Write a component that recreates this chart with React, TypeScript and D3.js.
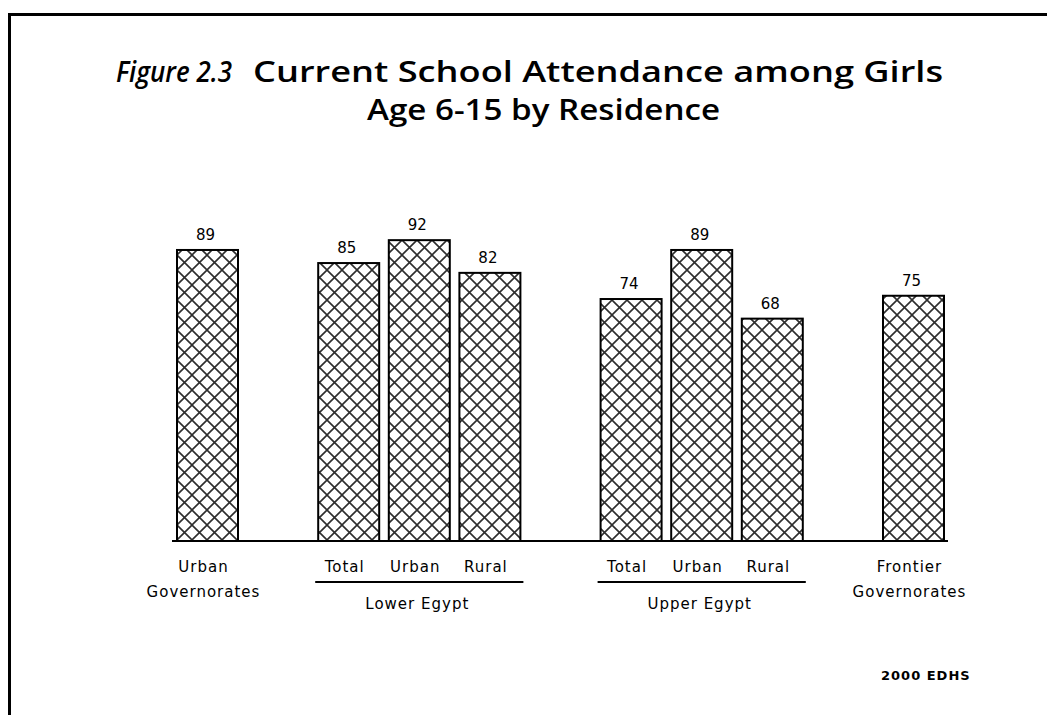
import React from "react";
import * as d3 from "d3";

const barIds = ["urbanGov", "lowerTotal", "lowerUrban", "lowerRural", "upperTotal", "upperUrban", "upperRural", "frontier"];
const barLabels = [["Urban", "Governorates"], ["Total"], ["Urban"], ["Rural"], ["Total"], ["Urban"], ["Rural"], ["Frontier", "Governorates"]];
const barGroups = ["Urban Governorates", "Lower Egypt", "Lower Egypt", "Lower Egypt", "Upper Egypt", "Upper Egypt", "Upper Egypt", "Frontier Governorates"];
const underlinedGroups = ["Lower Egypt", "Upper Egypt"];
const values = [89, 85, 92, 82, 74, 89, 68, 75];
const titleFigure = "Figure 2.3";
const titleLine1 = "Current School Attendance among Girls";
const titleLine2 = "Age 6-15 by Residence";
const sourceNote = "2000 EDHS";

const W = 1047;
const H = 715;
const baseY = 541;

// build slot domain with a gap between groups
const slotDomain: string[] = [];
barIds.forEach((id, i) => {
  if (i > 0 && barGroups[i] !== barGroups[i - 1]) slotDomain.push("gap" + i);
  slotDomain.push(id);
});

const x = d3.scaleBand<string>().domain(slotDomain).range([177, 944]).paddingInner(0.136).paddingOuter(0);
const y = d3.scaleLinear().domain([0, 100]).range([baseY, 214]);

const labelFont = "'DejaVu Sans', Verdana, sans-serif";
const titleFont = "'Open Sans', 'Noto Sans', sans-serif";

export default function App() {
  const bw = x.bandwidth();
  const groupSpans = underlinedGroups.map((g) => {
    const ids = barIds.filter((_, i) => barGroups[i] === g);
    const x0 = x(ids[0])! - 3;
    const x1 = x(ids[ids.length - 1])! + bw + 3;
    return { g, x0, x1 };
  });
  return (
    <svg width={W} height={H} style={{ position: "absolute", left: 0, top: 0, background: "#fff" }}>
      <defs>
        <pattern id="hatch" patternUnits="userSpaceOnUse" width={15} height={15} x={177} y={0}>
          <rect width={15} height={15} fill="#fff" />
          <path d="M0,0 L15,15 M15,0 L0,15" stroke="#2e2e2e" strokeWidth={1.6} />
        </pattern>
      </defs>
      <rect x={0} y={0} width={W} height={H} fill="#fff" />
      {/* frame */}
      <line x1={8} x2={W} y1={14.5} y2={14.5} stroke="#000" strokeWidth={3} />
      <line x1={9.5} x2={9.5} y1={13} y2={H} stroke="#000" strokeWidth={3} />

      {/* title */}
      <text x={116} y={82} fontFamily={titleFont} fontStyle="italic" fontWeight={600} fontSize={29} textLength={116} lengthAdjust="spacingAndGlyphs">{titleFigure}</text>
      <text x={253} y={82} fontFamily={titleFont} fontWeight={600} fontSize={29} textLength={690} lengthAdjust="spacingAndGlyphs">{titleLine1}</text>
      <text x={367} y={120} fontFamily={titleFont} fontWeight={600} fontSize={29} textLength={353} lengthAdjust="spacingAndGlyphs">{titleLine2}</text>

      {/* bars */}
      {barIds.map((id, i) => (
        <g key={id}>
          <rect x={x(id)!} y={y(values[i])} width={bw} height={baseY - y(values[i])} fill="url(#hatch)" stroke="#000" strokeWidth={2} />
          <text x={x(id)! + bw / 2 - 2} y={y(values[i]) - 10} textAnchor="middle" fontFamily={labelFont} fontSize={15} fill="#000">{values[i]}</text>
          {barLabels[i].map((t, j) => (
            <text key={j} x={x(id)! + bw / 2 - 4} y={572 + j * 25} textAnchor="middle" fontFamily={labelFont} fontSize={15} letterSpacing={1} fill="#000">{t}</text>
          ))}
        </g>
      ))}

      {/* axis baseline */}
      <line x1={172} x2={948} y1={baseY} y2={baseY} stroke="#000" strokeWidth={2} />

      {/* group underlines */}
      {groupSpans.map((s) => (
        <g key={s.g}>
          <line x1={s.x0} x2={s.x1} y1={582} y2={582} stroke="#000" strokeWidth={2} />
          <text x={(s.x0 + s.x1) / 2 - 2} y={609} textAnchor="middle" fontFamily={labelFont} fontSize={15} letterSpacing={1} fill="#000">{s.g}</text>
        </g>
      ))}

      {/* source */}
      <text x={881} y={680} fontFamily={labelFont} fontWeight="bold" fontSize={13} letterSpacing={1} fill="#000">{sourceNote}</text>
    </svg>
  );
}
